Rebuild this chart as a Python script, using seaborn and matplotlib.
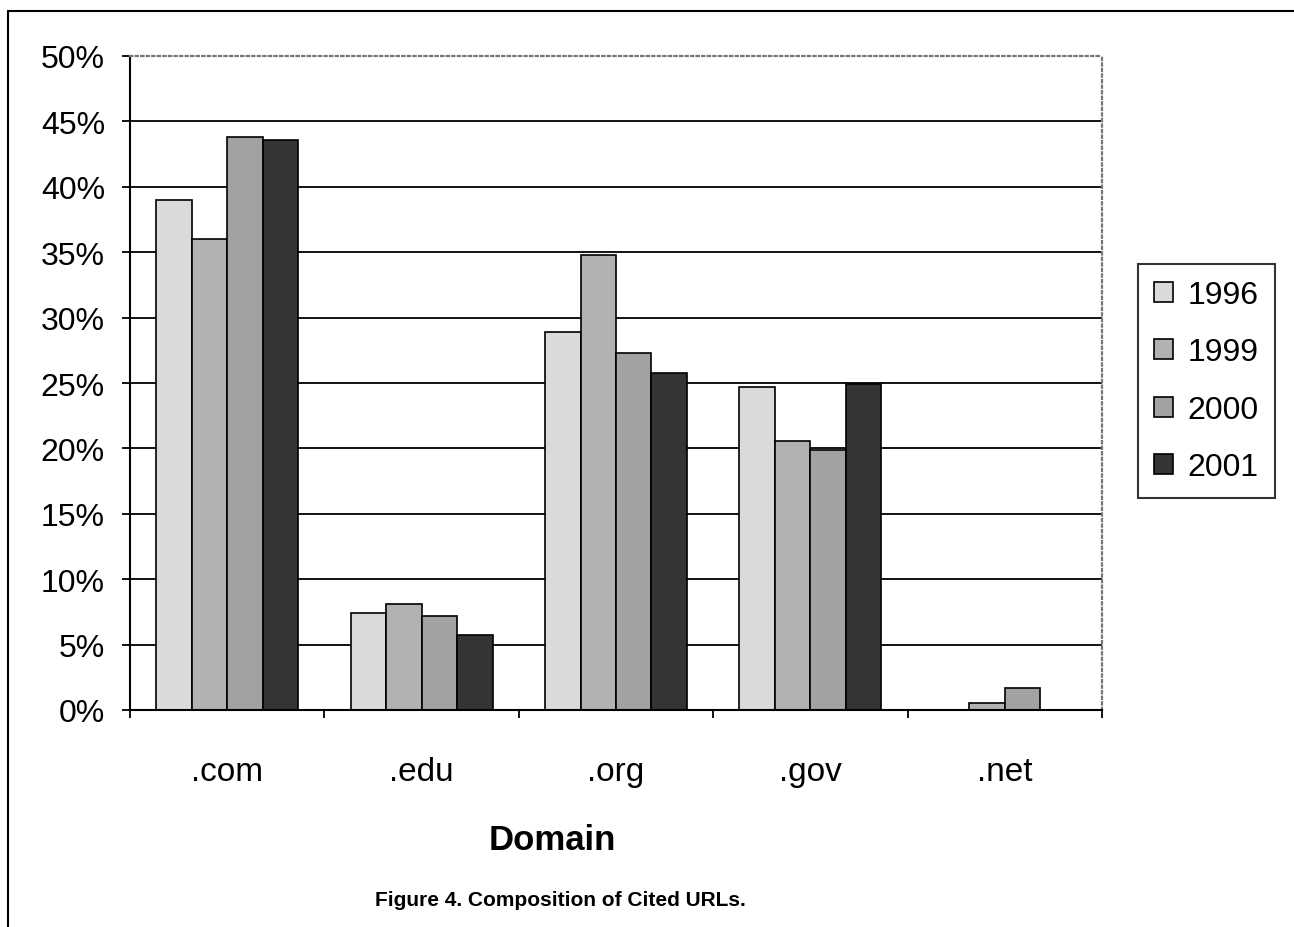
import pandas as pd
import numpy as np
import matplotlib
matplotlib.use('Agg')
import matplotlib.pyplot as plt
import seaborn as sns

# dados (porcentagem de URLs citadas por dominio)
dominios = ['.com', '.edu', '.org', '.gov', '.net']
anos = ['1996', '1999', '2000', '2001']
v1996 = [39.0, 7.4, 28.9, 24.7, 0.0]
v1999 = [36.0, 8.1, 34.8, 20.6, 0.5]
v2000 = [43.8, 7.2, 27.3, 19.9, 1.7]
v2001 = [43.6, 5.7, 25.8, 24.9, 0.0]
yticks = [0, 5, 10, 15, 20, 25, 30, 35, 40, 45, 50]

cores = ['#dadada', '#b2b2b2', '#a2a2a2', '#343434']

linhas = []
for ano, vals in zip(anos, [v1996, v1999, v2000, v2001]):
    for d, v in zip(dominios, vals):
        linhas.append([d, ano, v])
df = pd.DataFrame(linhas, columns=['Domain', 'Ano', 'Valor'])

sns.set_theme(style='white')
plt.rcParams['font.family'] = ['Liberation Sans', 'DejaVu Sans']
plt.rcParams['text.color'] = 'black'
plt.rcParams['xtick.color'] = 'black'
plt.rcParams['ytick.color'] = 'black'

fig = plt.figure(figsize=(12.94, 9.28), dpi=100)
ax = fig.add_axes([130 / 1294, 1 - 711 / 928, 972 / 1294, 654 / 928])

sns.barplot(data=df, x='Domain', y='Valor', hue='Ano', palette=cores,
            width=0.73, gap=0, edgecolor='black', linewidth=1.2, ax=ax,
            legend=True, errorbar=None)

ax.set_ylim(0, 50)
ax.set_xlim(-0.5, 4.5)
ax.set_yticks(yticks)
ax.set_yticklabels([f'{t}%' for t in yticks], fontsize=23)
ax.set_xticks(range(len(dominios)))
ax.set_xticklabels(dominios, fontsize=24)
ax.set_xticks(np.arange(-0.5, len(dominios), 1.0), minor=True)
ax.tick_params(axis='x', which='major', length=0, pad=33)
ax.tick_params(axis='x', which='minor', length=6, width=1.3, direction='out', color='black', bottom=True)
ax.tick_params(axis='y', length=6, width=1.3, direction='out', color='black', pad=12, left=True)
ax.set_xlabel('')
ax.set_ylabel('')

# grade horizontal
ax.yaxis.grid(True, color='black', linewidth=1.3)
ax.set_axisbelow(True)
ax.get_ygridlines()[-1].set_visible(False)

for s in ['left', 'bottom']:
    ax.spines[s].set_color('black')
    ax.spines[s].set_linewidth(1.5)
for s in ['top', 'right']:
    ax.spines[s].set_color('#777777')
    ax.spines[s].set_linewidth(1.6)
    ax.spines[s].set_linestyle((0, (1, 1.5)))

leg = ax.legend(loc='upper left', bbox_to_anchor=(1138 / 1294, 1 - 265 / 928),
                bbox_transform=fig.transFigure, borderaxespad=0, title=None,
                fontsize=23, frameon=True, fancybox=False, handlelength=0.6,
                handleheight=0.6, handletextpad=0.45, labelspacing=0.86,
                borderpad=0.5)
leg.get_frame().set_edgecolor('black')
leg.get_frame().set_linewidth(1.5)

fig.text(552 / 1294, 1 - 841 / 928, 'Domain', fontsize=25, fontweight='bold',
         ha='center', va='center')
fig.text(560 / 1294, 1 - 901 / 928, 'Figure 4. Composition of Cited URLs.',
         fontsize=15, fontweight='bold', ha='center', va='center')

# moldura externa (so topo e esquerda visiveis)
fig.add_artist(plt.Line2D([8 / 1294, 1], [1 - 11.5 / 928, 1 - 11.5 / 928],
                          transform=fig.transFigure, color='black', linewidth=1.5))
fig.add_artist(plt.Line2D([8 / 1294, 8 / 1294], [0, 1 - 11.5 / 928],
                          transform=fig.transFigure, color='black', linewidth=1.5))

fig.savefig('out.png', dpi=100)
